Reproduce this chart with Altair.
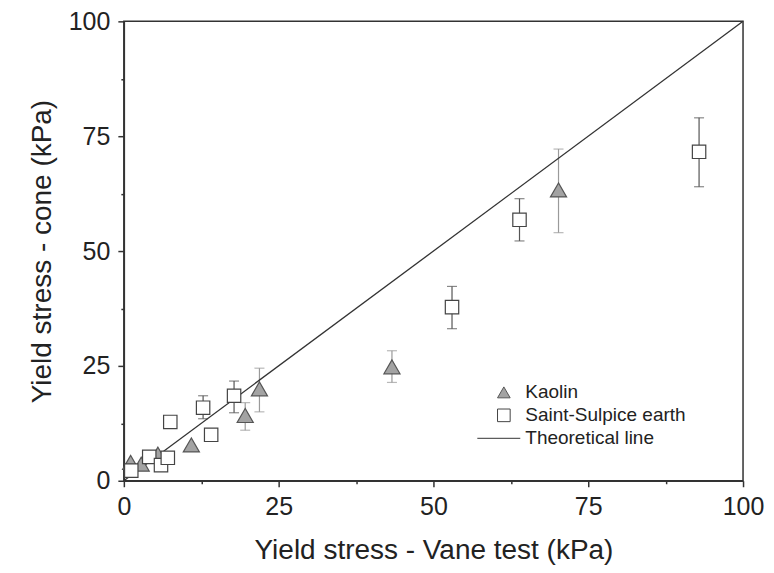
import altair as alt
import pandas as pd

# Kaolin (triangles)
kaolin_x = [1.1, 2.8, 5.5, 10.9, 19.6, 21.9, 43.3, 70.2]
kaolin_y = [4.0, 3.6, 5.8, 7.8, 14.2, 20.0, 24.8, 63.3]
kaolin_lo = [None, None, None, None, 11.0, 15.0, 21.4, 54.0]
kaolin_hi = [None, None, None, None, 17.0, 24.5, 28.3, 72.2]

# Saint-Sulpice earth (squares)
ss_x = [1.2, 4.1, 6.0, 7.1, 7.5, 12.8, 14.1, 17.8, 53.0, 63.9, 92.9]
ss_y = [2.2, 5.2, 3.4, 5.0, 12.8, 15.9, 10.0, 18.5, 37.8, 56.8, 71.6]
ss_lo = [None, None, None, None, None, 13.5, None, 14.8, 33.1, 52.2, 64.0]
ss_hi = [None, None, None, None, None, 18.5, None, 21.7, 42.3, 61.4, 79.0]

# Theoretical line
line_x = [0, 100]
line_y = [0, 100]

series_names = ["Kaolin", "Saint-Sulpice earth", "Theoretical line"]
tick_values = [0, 12.5, 25, 37.5, 50, 62.5, 75, 87.5, 100]

pts = pd.DataFrame({
    "x": kaolin_x + ss_x,
    "y": kaolin_y + ss_y,
    "lo": kaolin_lo + ss_lo,
    "hi": kaolin_hi + ss_hi,
    "series": [series_names[0]] * len(kaolin_x) + [series_names[1]] * len(ss_x),
})
err = pts.dropna(subset=["lo", "hi"])
line_df = pd.DataFrame({"x": line_x, "y": line_y, "series": [series_names[2]] * 2})

FONT = "Liberation Sans"

xs = alt.Scale(domain=[0, 100], nice=False, zero=False)
ys = alt.Scale(domain=[0, 100], nice=False, zero=False)

is_major = "datum.value % 25 === 0"
tick_size = {"condition": {"test": is_major, "value": 6}, "value": 3}
label_expr = "datum.value % 25 === 0 ? datum.label : ''"

x_axis = alt.Axis(values=tick_values, title="Yield stress - Vane test (kPa)", grid=False,
                  tickSize=tick_size, labelExpr=label_expr, labelPadding=8,
                  titlePadding=17, format="d", labelOverlap=False, labelFlush=False)
y_axis = alt.Axis(values=tick_values, title="Yield stress - cone (kPa)", grid=False,
                  tickSize=tick_size, labelExpr=label_expr, labelPadding=8,
                  titlePadding=12, format="d", labelOverlap=False, labelFlush=False)

legend = alt.Legend(title=None, orient="none", legendX=371, legendY=362)

shape_scale = alt.Scale(domain=series_names, range=["triangle-up", "square", "M-4.2,0L2.6,0"])
fill_scale = alt.Scale(domain=series_names, range=["#a3a3a3", "#ffffff", "transparent"])
stroke_scale = alt.Scale(domain=series_names, range=["#555555", "#444444", "#333333"])
size_scale = alt.Scale(domain=series_names[:2], range=[260, 180])

err_color = alt.Scale(domain=series_names[:2], range=["#9a9a9a", "#555555"])

rules = alt.Chart(err).mark_rule(strokeWidth=1.2).encode(
    x=alt.X("x:Q", scale=xs, axis=x_axis),
    y=alt.Y("lo:Q", scale=ys, axis=y_axis),
    y2="hi:Q",
    color=alt.Color("series:N", scale=err_color, legend=None),
)
caps_lo = alt.Chart(err).mark_tick(orient="horizontal", size=10, thickness=1.2).encode(
    x=alt.X("x:Q", scale=xs), y=alt.Y("lo:Q", scale=ys),
    color=alt.Color("series:N", scale=err_color, legend=None),
)
caps_hi = alt.Chart(err).mark_tick(orient="horizontal", size=10, thickness=1.2).encode(
    x=alt.X("x:Q", scale=xs), y=alt.Y("hi:Q", scale=ys),
    color=alt.Color("series:N", scale=err_color, legend=None),
)

line = alt.Chart(line_df).mark_line(strokeWidth=1.3).encode(
    x=alt.X("x:Q", scale=xs),
    y=alt.Y("y:Q", scale=ys),
    stroke=alt.Stroke("series:N", scale=stroke_scale, legend=legend),
)

points = alt.Chart(pts).mark_point(filled=True, strokeWidth=1.2, opacity=1).encode(
    x=alt.X("x:Q", scale=xs),
    y=alt.Y("y:Q", scale=ys),
    shape=alt.Shape("series:N", scale=shape_scale, legend=legend),
    fill=alt.Fill("series:N", scale=fill_scale, legend=legend),
    stroke=alt.Stroke("series:N", scale=stroke_scale, legend=legend),
    size=alt.Size("series:N", scale=size_scale, legend=None),
)

chart = alt.layer(rules, caps_lo, caps_hi, line, points).properties(
    width=620, height=460,
    padding={"left": 20, "top": 1, "right": 2, "bottom": 5},
).configure_view(
    stroke="#333333", strokeWidth=1.5,
).configure_axis(
    labelFont=FONT, titleFont=FONT, labelFontSize=25, titleFontSize=28,
    labelFontWeight="normal", titleFontWeight="normal",
    labelColor="#222", titleColor="#222",
    domainColor="#333", tickColor="#333", domainWidth=1.5, tickWidth=1.5,
).configure_legend(
    labelFont=FONT, labelFontSize=19, labelColor="#222", labelLimit=400,
    symbolSize=160, symbolStrokeWidth=1, rowPadding=3, labelOffset=12,
)

chart.save("out.html", embed_options={"renderer": "svg", "actions": False})
